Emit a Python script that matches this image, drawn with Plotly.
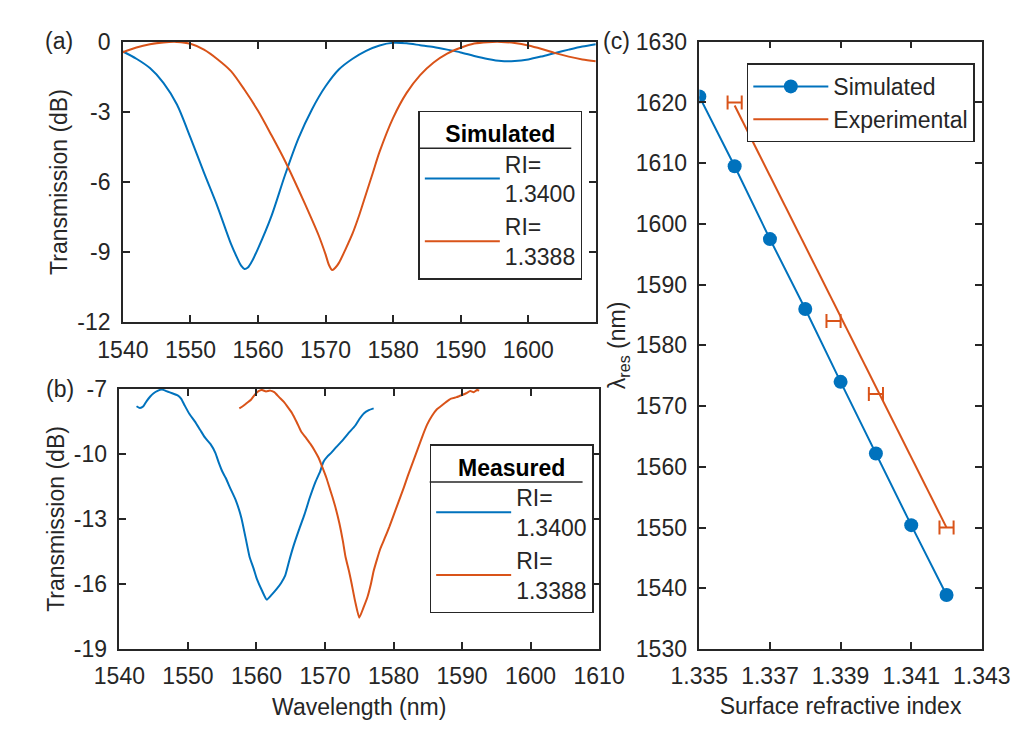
import plotly.graph_objects as go

# ---------------- data ----------------
# (a) simulated transmission spectra
sim_wl_a = [1540, 1542, 1544, 1546, 1548, 1550, 1552, 1554, 1556, 1557, 1557.5, 1558, 1558.5,
            1559, 1560, 1562, 1564, 1566, 1568, 1570, 1572, 1574, 1576, 1578, 1580, 1582, 1584,
            1586, 1588, 1590, 1592, 1594, 1596, 1598, 1600, 1602, 1604, 1606, 1608, 1610]
sim_t_a = [-0.41, -0.72, -1.12, -1.75, -2.68, -4.10, -5.60, -7.05, -8.65, -9.30, -9.58, -9.72,
           -9.66, -9.45, -8.85, -7.45, -5.70, -4.12, -2.88, -1.90, -1.17, -0.72, -0.38, -0.15,
           -0.04, -0.06, -0.14, -0.22, -0.33, -0.45, -0.60, -0.73, -0.82, -0.82, -0.75, -0.62,
           -0.47, -0.33, -0.20, -0.10]
sim_wl_b = [1540, 1542, 1544, 1546, 1548, 1550, 1552, 1554, 1556, 1558, 1560, 1562, 1564, 1566,
            1568, 1569, 1570, 1570.5, 1571, 1571.5, 1572, 1573, 1574, 1575, 1576, 1577, 1578,
            1580, 1582, 1584, 1586, 1588, 1590, 1592, 1594, 1596, 1598, 1600, 1602, 1604, 1606,
            1608, 1610]
sim_t_b = [-0.44, -0.24, -0.10, -0.02, 0.00, -0.08, -0.33, -0.74, -1.25, -2.05, -2.95, -4.00,
           -5.10, -6.33, -7.62, -8.30, -9.10, -9.55, -9.77, -9.65, -9.45, -8.85, -8.20, -7.40,
           -6.50, -5.60, -4.70, -3.25, -2.18, -1.42, -0.88, -0.50, -0.25, -0.07, -0.01, 0.00,
           -0.05, -0.15, -0.30, -0.48, -0.63, -0.75, -0.83]

# (b) measured transmission spectra
meas_wl_a = [1542.5, 1543.0, 1543.5, 1544.0, 1544.5, 1545.0, 1545.5, 1546.2, 1547.0, 1547.7,
             1548.5, 1549.0, 1549.5, 1550.2, 1551.0, 1551.8, 1552.5, 1553.3, 1554.0, 1554.5,
             1555.0, 1555.5, 1556.2, 1557.0, 1557.8, 1558.5, 1559.0, 1559.6, 1560.1, 1560.8,
             1561.5, 1562.2, 1562.9, 1563.6, 1564.2, 1564.8, 1565.4, 1566.2, 1567.0, 1567.8,
             1568.6, 1569.3, 1569.8, 1570.4, 1570.9, 1571.6, 1572.5, 1573.4, 1574.4, 1575.0,
             1575.7, 1576.4, 1577.1]
meas_t_a = [-7.80, -7.88, -7.80, -7.55, -7.35, -7.20, -7.10, -7.03, -7.12, -7.20,
            -7.30, -7.45, -7.75, -8.15, -8.50, -8.90, -9.25, -9.55, -9.95, -10.40,
            -10.80, -11.10, -11.60, -12.15, -12.95, -14.00, -14.75, -15.30, -15.80, -16.30,
            -16.72, -16.50, -16.25, -15.95, -15.60, -14.90, -14.25, -13.50, -12.80, -12.00,
            -11.30, -10.80, -10.35, -10.10, -9.95, -9.70, -9.40, -9.05, -8.70, -8.40,
            -8.12, -7.98, -7.90]
meas_wl_b = [1557.5, 1558.0, 1558.6, 1559.2, 1559.8, 1560.3, 1560.8, 1561.4, 1562.0, 1562.6,
             1563.3, 1564.0, 1564.6, 1565.2, 1565.9, 1566.5, 1567.2, 1567.9, 1568.5, 1569.1,
             1569.6, 1570.2, 1570.7, 1571.1, 1571.6, 1572.1, 1572.6, 1573.0, 1573.5, 1573.9,
             1574.4, 1575.0, 1575.6, 1576.2, 1576.7, 1577.1, 1577.6, 1578.1, 1578.7, 1579.4,
             1580.1, 1580.8, 1581.5, 1582.1, 1582.8, 1583.5, 1584.2, 1584.9, 1585.6, 1586.3,
             1587.0, 1587.7, 1588.4, 1589.2, 1590.0, 1590.6, 1591.2, 1591.7, 1592.2, 1592.5]
meas_t_b = [-7.90, -7.80, -7.65, -7.50, -7.25, -7.10, -7.05, -7.12, -7.08, -7.15,
            -7.38, -7.60, -7.85, -8.12, -8.55, -8.95, -9.25, -9.55, -9.85, -10.20,
            -10.60, -11.10, -11.60, -12.00, -12.55, -13.20, -14.00, -14.75, -15.40, -16.00,
            -16.80, -17.55, -17.10, -16.60, -16.00, -15.40, -14.85, -14.35, -13.90, -13.35,
            -12.75, -12.15, -11.55, -11.00, -10.40, -9.80, -9.20, -8.65, -8.25, -7.95,
            -7.78, -7.60, -7.45, -7.38, -7.28, -7.20, -7.10, -7.15, -7.05, -7.08]

# (c) resonance wavelength vs surface refractive index
ri_sim = [1.335, 1.336, 1.337, 1.338, 1.339, 1.340, 1.341, 1.342]
lam_sim = [1621.0, 1609.5, 1597.5, 1586.0, 1574.0, 1562.2, 1550.4, 1538.9]
ri_exp = [1.3360, 1.3388, 1.3400, 1.3420]
lam_exp = [1620.0, 1584.0, 1572.0, 1550.0]
ri_err = [0.0002, 0.0002, 0.0002, 0.0002]
fit_ri = [1.3360, 1.3420]
fit_lam = [1619.5, 1550.0]

# tick labels
wl_ticks_a = [1540, 1550, 1560, 1570, 1580, 1590, 1600]
wl_ticks_b = [1540, 1550, 1560, 1570, 1580, 1590, 1600, 1610]
t_ticks_a = [-12, -9, -6, -3, 0]
t_ticktext_a = ["-12", "-9", "-6", "-3", "0"]
t_ticks_b = [-19, -16, -13, -10, -7]
t_ticktext_b = ["-19", "-16", "-13", "-10", "-7"]
ri_ticks = [1.335, 1.337, 1.339, 1.341, 1.343]
ri_ticktext = ["1.335", "1.337", "1.339", "1.341", "1.343"]
lam_ticks = [1530, 1540, 1550, 1560, 1570, 1580, 1590, 1600, 1610, 1620, 1630]
labels_ri = ["RI=<br>1.3400", "RI=<br>1.3388"]

# ---------------- style ----------------
W, H = 1034, 729
BLUE = "#0072BD"
ORANGE = "#D95319"
AX = "#262626"
FONT = "Liberation Sans, Arial, sans-serif"
FS = 23


def px_x(v):
    return v / W


def px_y(v):
    return 1 - v / H


fig = go.Figure()

# (a)
fig.add_trace(go.Scatter(x=sim_wl_a, y=sim_t_a, mode="lines", name=labels_ri[0],
                         line=dict(color=BLUE, width=2, shape="spline", smoothing=0.8),
                         xaxis="x", yaxis="y", legend="legend"))
fig.add_trace(go.Scatter(x=sim_wl_b, y=sim_t_b, mode="lines", name=labels_ri[1],
                         line=dict(color=ORANGE, width=2, shape="spline", smoothing=0.8),
                         xaxis="x", yaxis="y", legend="legend"))
# (b)
fig.add_trace(go.Scatter(x=meas_wl_a, y=meas_t_a, mode="lines", name=labels_ri[0],
                         line=dict(color=BLUE, width=2, shape="spline", smoothing=0.5),
                         xaxis="x2", yaxis="y2", legend="legend2"))
fig.add_trace(go.Scatter(x=meas_wl_b, y=meas_t_b, mode="lines", name=labels_ri[1],
                         line=dict(color=ORANGE, width=2, shape="spline", smoothing=0.5),
                         xaxis="x2", yaxis="y2", legend="legend2"))
# (c)
fig.add_trace(go.Scatter(x=ri_sim, y=lam_sim, mode="lines+markers", name="Simulated",
                         line=dict(color=BLUE, width=2),
                         marker=dict(color=BLUE, size=14),
                         xaxis="x3", yaxis="y3", legend="legend3"))
fig.add_trace(go.Scatter(x=fit_ri, y=fit_lam, mode="lines", name="Experimental",
                         line=dict(color=ORANGE, width=2), legendgroup="exp",
                         xaxis="x3", yaxis="y3", legend="legend3"))
fig.add_trace(go.Scatter(x=ri_exp, y=lam_exp, mode="markers", name="Experimental",
                         marker=dict(color="rgba(0,0,0,0)", size=1),
                         error_x=dict(type="data", array=ri_err, visible=True,
                                      color=ORANGE, thickness=2, width=7),
                         showlegend=False, legendgroup="exp",
                         xaxis="x3", yaxis="y3", legend="legend3"))

axis_common = dict(showline=True, linecolor=AX, linewidth=1.5, mirror="ticks",
                   ticks="inside", ticklen=7, tickwidth=1.5, tickcolor=AX,
                   showgrid=False, zeroline=False,
                   tickfont=dict(family=FONT, size=FS, color=AX))
title_font = dict(family=FONT, size=FS, color=AX)
legend_common = dict(bordercolor=AX, borderwidth=1.5,
                     font=dict(family=FONT, size=FS, color=AX), itemwidth=75,
                     tracegroupgap=0, itemclick=False, itemdoubleclick=False)

fig.update_layout(
    width=W, height=H,
    margin=dict(l=0, r=0, t=0, b=0),
    paper_bgcolor="white", plot_bgcolor="white",
    font=dict(family=FONT, size=FS, color=AX),
    showlegend=True,
    xaxis=dict(domain=[px_x(91), px_x(592)], range=[1540, 1610], tickvals=wl_ticks_a,
               anchor="y", ticklabelstandoff=6, **axis_common),
    yaxis=dict(domain=[px_y(312.3), px_y(21.7)], range=[-12, 0],
               tickvals=t_ticks_a, ticktext=t_ticktext_a, anchor="x", ticklabelstandoff=6,
               title=dict(text="Transmission (dB)", standoff=3, font=title_font),
               **axis_common),
    xaxis2=dict(domain=[px_x(87.3), px_x(595.5)], range=[1540, 1610], tickvals=wl_ticks_b,
                anchor="y2", ticklabelstandoff=6,
                title=dict(text="Wavelength (nm)", standoff=10, font=title_font),
                **axis_common),
    yaxis2=dict(domain=[px_y(651.3), px_y(381.5)], range=[-19, -7],
                tickvals=t_ticks_b, ticktext=t_ticktext_b, anchor="x2", ticklabelstandoff=6,
                title=dict(text="Transmission (dB)", standoff=3, font=title_font),
                **axis_common),
    xaxis3=dict(domain=[px_x(701.7), px_x(1001)], range=[1.335, 1.343],
                tickvals=ri_ticks, ticktext=ri_ticktext,
                anchor="y3", ticklabelstandoff=6,
                title=dict(text="Surface refractive index", standoff=9, font=title_font),
                **axis_common),
    yaxis3=dict(domain=[px_y(651.3), px_y(21.5)], range=[1530, 1630],
                tickvals=lam_ticks, anchor="x3", ticklabelstandoff=6,
                title=dict(text="λ<sub>res</sub> (nm)", standoff=4, font=title_font),
                **axis_common),
    legend=dict(x=px_x(404), y=px_y(93), xanchor="left", yanchor="top",
                bgcolor="rgba(255,255,255,0)",
                title=dict(text="<b>Simulated</b>", side="top center",
                           font=dict(family=FONT, size=FS, color="black")),
                **legend_common),
    legend2=dict(x=px_x(416), y=px_y(439), xanchor="left", yanchor="top",
                 bgcolor="rgba(255,255,255,0)",
                 title=dict(text="<b>Measured</b>", side="top center",
                            font=dict(family=FONT, size=FS, color="black")),
                 **legend_common),
    legend3=dict(x=px_x(752), y=px_y(44), xanchor="left", yanchor="top",
                 bgcolor="white", **legend_common),
)

# separators under the legend titles
for x0, x1, yy in [(404, 566, 132), (416, 578, 478)]:
    fig.add_shape(type="line", xref="paper", yref="paper", layer="below",
                  x0=px_x(x0), x1=px_x(x1), y0=px_y(yy), y1=px_y(yy),
                  line=dict(color=AX, width=1.5))

# panel labels
for txt, xx, yy in [("(a)", 23, 21), ("(b)", 24, 382), ("(c)", 614, 21)]:
    fig.add_annotation(text=txt, xref="paper", yref="paper", x=px_x(xx), y=px_y(yy),
                       xanchor="center", yanchor="middle", showarrow=False,
                       font=dict(family=FONT, size=FS, color=AX))

fig.write_html("out.html")
